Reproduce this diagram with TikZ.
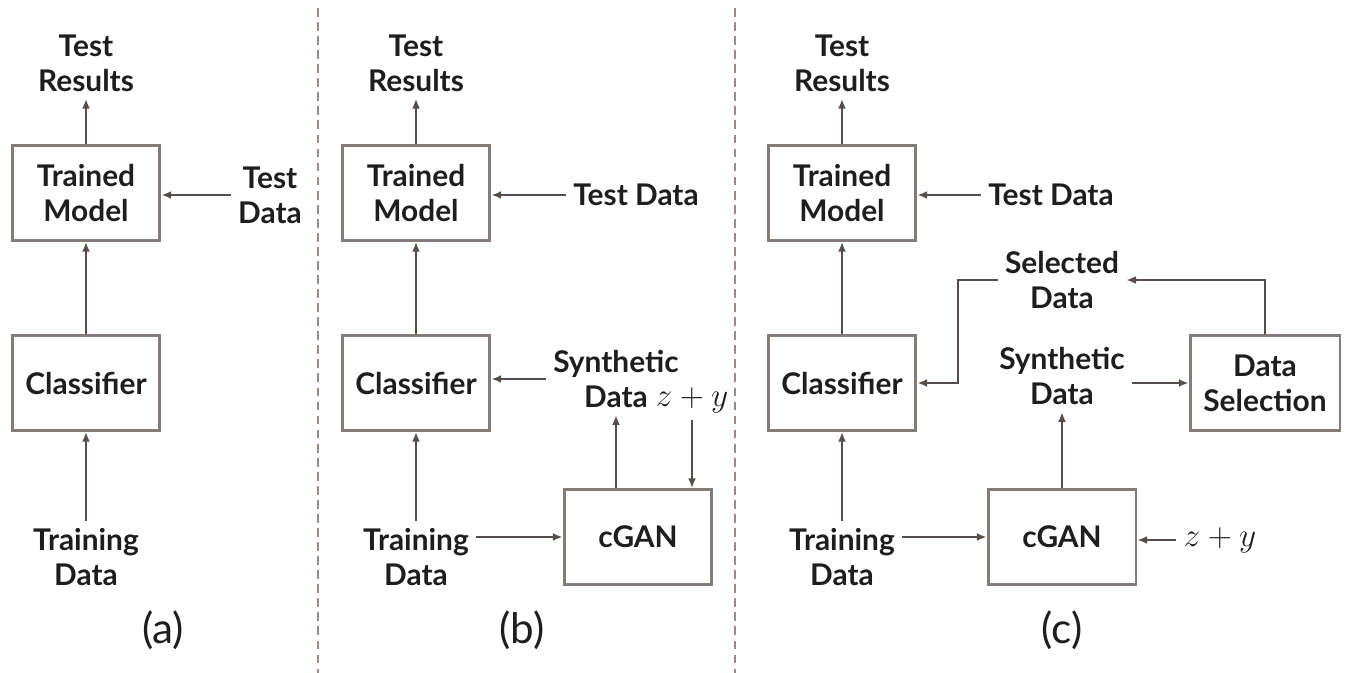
\RequirePackage{fix-cm}
\documentclass[tikz,border=0pt]{standalone}
\usepackage{fontspec}
\setmainfont{Lato}
\usetikzlibrary{arrows.meta}

\definecolor{boxgray}{HTML}{857B79}
\definecolor{linegray}{HTML}{564D4B}
\definecolor{dashbrown}{HTML}{A08A80}
\definecolor{txt}{HTML}{1E1E1E}

\tikzset{
  blk/.style={draw=boxgray, line width=1.7pt, minimum width=2.96cm, minimum height=1.9cm,
    inner sep=0pt, align=center, text=txt, font=\fontsize{17}{20}\selectfont\bfseries},
  lbl/.style={align=center, inner sep=4pt, text=txt, font=\fontsize{17}{20}\selectfont\bfseries},
  mathlbl/.style={inner sep=4pt, text=txt, font=\fontsize{19}{22}\selectfont},
  sublbl/.style={text=txt, font=\fontsize{24}{28}\selectfont},
  arr/.style={draw=linegray, line width=1.3pt, -{Latex[length=5.5pt,width=4.5pt]}},
  divider/.style={draw=dashbrown, line width=1.1pt, dash pattern=on 5pt off 3pt}
}

\begin{document}
\begin{tikzpicture}[x=0.02cm, y=-0.02cm]
\useasboundingbox (0,0) rectangle (1350,673);

% (a) plain classifier
\node[lbl] (tra) at (86,63) {Test\\Results};
\node[blk] (tma) at (86,193) {Trained\\Model};
\node[lbl] (tda) at (270,195) {Test\\Data};
\node[blk] (clsa) at (86,383) {Classifier};
\node[lbl] (trda) at (86,557) {Training\\Data};
\node[sublbl] (laba) at (163,630) {(a)};
\draw[arr] (tma) -- (tra);
\draw[arr] (clsa) -- (tma);
\draw[arr] (trda) -- (clsa);
\draw[arr] (tda.west) -- (tda.west -| tma.east);

\draw[divider] (318,8) -- (318,673);

% (b) cGAN data added directly
\node[lbl] (trb) at (416,63) {Test\\Results};
\node[blk] (tmb) at (416,193) {Trained\\Model};
\node[lbl] (tdb) at (636,195) {Test Data};
\node[blk] (clsb) at (416,383) {Classifier};
\node[lbl] (synb) at (616,379) {Synthetic\\Data};
\node[mathlbl] (zyb) at (692,400) {$z+y$};
\node[blk] (ganb) at (638,537) {cGAN};
\node[lbl] (trdb) at (416,557) {Training\\Data};
\node[sublbl] (labb) at (522,630) {(b)};
\draw[arr] (tmb) -- (trb);
\draw[arr] (clsb) -- (tmb);
\draw[arr] (trdb) -- (clsb);
\draw[arr] (tdb.west) -- (tdb.west -| tmb.east);
\draw[arr] (synb.west) -- (synb.west -| clsb.east);
\draw[arr] (synb.south |- ganb.north) -- (synb.south);
\draw[arr] (zyb.south) -- (zyb.south |- ganb.north);
\draw[arr] (trdb.east |- ganb.west) -- (ganb.west);

\draw[divider] (735,8) -- (735,673);

% (c) cGAN data with selection
\node[lbl] (trc) at (842,63) {Test\\Results};
\node[blk] (tmc) at (842,193) {Trained\\Model};
\node[lbl] (tdc) at (1051,195) {Test Data};
\node[blk] (clsc) at (842,383) {Classifier};
\node[lbl] (seld) at (1062,280) {Selected\\Data};
\node[lbl] (sync) at (1062,376) {Synthetic\\Data};
\node[blk, minimum width=3cm] (dsel) at (1265,383) {Data\\Selection};
\node[blk] (ganc) at (1062,537) {cGAN};
\node[mathlbl] (zyc) at (1220,540) {$z+y$};
\node[lbl] (trdc) at (842,557) {Training\\Data};
\node[sublbl] (labc) at (1062,630) {(c)};
\draw[arr] (tmc) -- (trc);
\draw[arr] (clsc) -- (tmc);
\draw[arr] (trdc) -- (clsc);
\draw[arr] (tdc.west) -- (tdc.west -| tmc.east);
\draw[arr] (trdc.east |- ganc.west) -- (ganc.west);
\draw[arr] (zyc.west) -- (zyc.west -| ganc.east);
\draw[arr] (ganc) -- (sync);
\draw[arr] (sync.east |- dsel.west) -- (dsel.west);
\draw[arr] (dsel.north) |- (seld.east);
\draw[arr] (seld.west) -- ++(-40,0) |- (clsc.east);
\end{tikzpicture}
\end{document}
